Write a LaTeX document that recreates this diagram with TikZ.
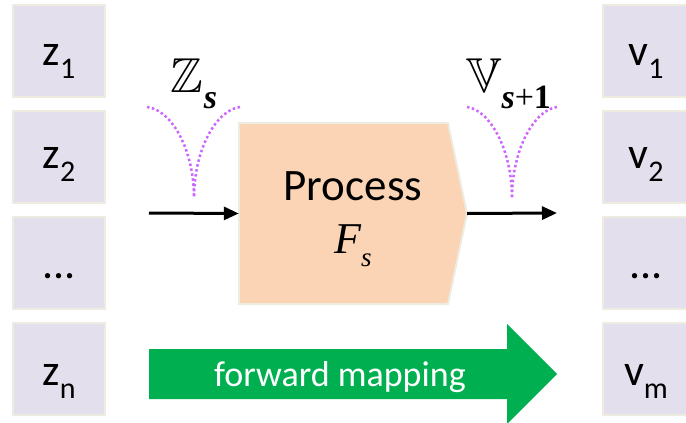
\documentclass[tikz,border=0pt]{standalone}
\usepackage{fontspec}
\setmainfont{Carlito}
\newfontfamily\tms{Liberation Serif}
\usetikzlibrary{arrows.meta}

\definecolor{cellfill}{RGB}{228,223,236}
\definecolor{cellrim}{RGB}{238,236,225}
\definecolor{procfill}{RGB}{250,212,180}
\definecolor{fwdgreen}{RGB}{0,176,80}
\definecolor{flowdot}{RGB}{204,102,255}

% subscript set smaller and lowered
\newcommand\lowsub[1]{{\fontsize{30}{30}\selectfont\raisebox{-13pt}{#1}}}
% double-struck capital
\newcommand\dstruck[1]{{\fontsize{49}{49}\usefont{U}{msb}{m}{n}#1}}

\begin{document}
\begin{tikzpicture}[x=1pt,y=-1pt,
  cell/.style={draw=cellrim, fill=cellfill, line width=2pt,
    minimum width=92pt, minimum height=92pt, inner sep=0pt},
  celltext/.style={anchor=base, inner sep=0pt, font=\fontsize{44}{44}\selectfont},
  flow/.style={line width=3pt, -{Triangle[length=15pt,width=13pt]}},
  dots/.style={flowdot, line width=2.5pt, dash pattern=on 2.5pt off 2.5pt},
  procbody/.style={draw=cellrim, fill=procfill, line width=2pt, line join=miter}]
\useasboundingbox (0,0) rectangle (686,423);
\clip (0,0) rectangle (686,423);

% input cells
\node[cell] (z1) at (59,51) {};
\node[cell] (z2) at (59,156.5) {};
\node[cell] (z3) at (59,262.5) {};
\node[cell] (z4) at (59,368.5) {};
\node[celltext] (z1t) at (59,65) {z\lowsub{1}};
\node[celltext] (z2t) at (59,168) {z\lowsub{2}};
\node[celltext] (z3t) at (59,278) {...};
\node[celltext] (z4t) at (59,385) {z\lowsub{n}};

% output cells
\node[cell] (v1) at (648.5,51) {};
\node[cell] (v2) at (648.5,156.5) {};
\node[cell] (v3) at (648.5,262.5) {};
\node[cell] (v4) at (648.5,368.5) {};
\node[celltext] (v1t) at (646,65) {v\lowsub{1}};
\node[celltext] (v2t) at (646,168) {v\lowsub{2}};
\node[celltext] (v3t) at (646,278) {...};
\node[celltext] (v4t) at (646,385) {v\lowsub{m}};

% process block: pentagon pointing right
\filldraw[procbody] (239,123) -- (448,123) -- (467,213.5) -- (448,304) -- (239,304) -- cycle;
\node[inner sep=0pt, minimum width=228pt, minimum height=181pt] (pf) at (353,213.5) {};
\node[anchor=base, inner sep=0pt, font=\fontsize{45}{45}\selectfont] (pft) at (353,200) {Process};
\node[anchor=base, inner sep=0pt] (pfs) at (353,253)
  {\tms\itshape\fontsize{44}{44}\selectfont F{\fontsize{27}{27}\selectfont\raisebox{-13pt}{s}}};

% flow in and out
\coordinate (zin) at (149,213);
\coordinate (vout) at (557,213);
\draw[flow] (zin) -- (pf.west);
\draw[flow] (pf.east) -- (vout);

% state labels
\node[anchor=base west, inner sep=0pt] (zs) at (170,92)
  {\dstruck{Z}\kern1pt{\tms\bfseries\itshape\fontsize{34}{34}\selectfont\raisebox{-16pt}{s}}};
\node[anchor=base west, inner sep=0pt] (vs) at (466,92)
  {\dstruck{V}{\tms\fontsize{34}{34}\selectfont\raisebox{-16pt}{\textbf{\textit{s}}+\textbf{1}}}};

% dotted funnels
\coordinate (za) at (147,107);
\coordinate (zb) at (240,107);
\coordinate (zm) at (194,198);
\draw[dots] (za) .. controls (172,110) and (194,150) .. (zm);
\draw[dots] (zb) .. controls (216,110) and (194,150) .. (zm);
\coordinate (va) at (467,107);
\coordinate (vb) at (557,107);
\coordinate (vm) at (512,198);
\draw[dots] (va) .. controls (490,110) and (512,150) .. (vm);
\draw[dots] (vb) .. controls (534,110) and (512,150) .. (vm);

% forward mapping arrow
\fill[fwdgreen] (149,349) -- (507,349) -- (507,324) -- (557,374)
  -- (507,424) -- (507,399) -- (149,399) -- cycle;
\node[anchor=base, inner sep=0pt, text=white, font=\fontsize{36}{36}\selectfont]
  (fwd) at (340,386) {forward mapping};
\end{tikzpicture}
\end{document}
